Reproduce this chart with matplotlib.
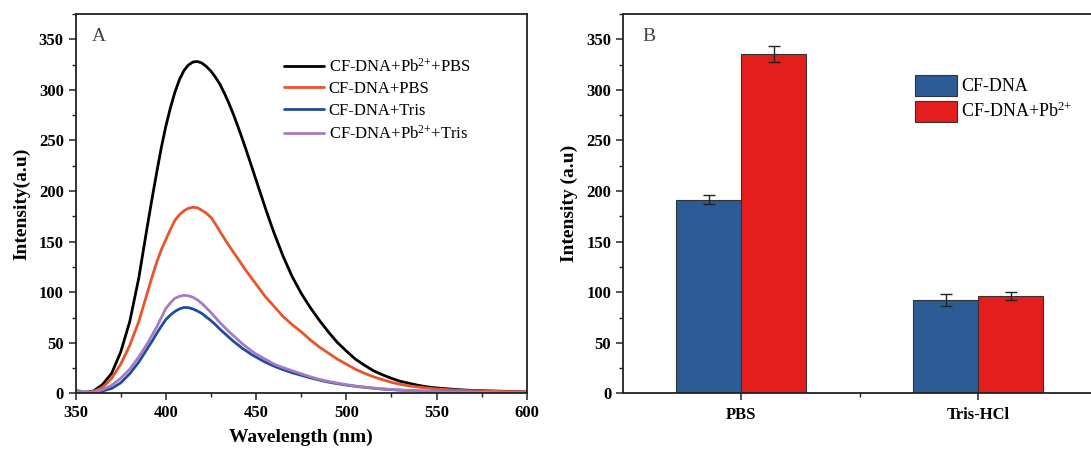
#Fluorescence spectra (A) and bar comparison (B)

import numpy as np
import matplotlib.pyplot as plt
from matplotlib.ticker import MultipleLocator, FixedLocator

plt.rcParams['font.family'] = ['Liberation Serif', 'DejaVu Serif']
plt.rcParams['mathtext.default'] = 'regular'

#spectra data (finer steps around the peaks)
wavelength = [350, 355, 360, 365, 370, 375, 380, 385,
              390, 392.5, 395, 397.5, 400, 402.5, 405, 407.5, 410, 412.5,
              415, 417.5, 420, 422.5, 425, 427.5, 430, 432.5, 435, 437.5,
              440, 442.5, 445, 447.5, 450, 452.5, 455, 457.5, 460,
              465, 470, 475, 480, 485, 490, 495, 500, 505,
              510, 515, 520, 525, 530, 535, 540, 545, 550,
              560, 570, 580, 590, 600]

pb_pbs = [2.5, 1, 2.5, 9, 20, 41, 71, 114,
          168, 194, 219, 243, 264, 282, 297.5, 310, 319, 324.5,
          327.5, 328, 326.5, 323, 318.5, 312.5, 305.5, 296.5, 286.5, 275.5,
          263.5, 251, 238, 224.5, 211, 197.5, 184, 171, 158.5,
          135.5, 115.5, 99, 85, 72.5, 61, 50.5, 42, 34,
          28, 22.5, 18.5, 15, 12, 10, 8, 6.5, 5.5,
          4, 3, 2.5, 2, 1.5]

pbs = [2.5, 1, 2, 6, 15, 29, 47.5, 71,
       101, 116, 130, 142, 152, 162, 171, 176.5, 180.5, 183,
       184, 183.5, 181, 178, 174, 167.5, 160, 153, 146, 139.5,
       133, 126.5, 120, 114, 108, 102, 96, 91, 86,
       76, 68, 61, 53, 46, 40, 34, 29, 24,
       20, 16.5, 13.7, 11, 9, 7.5, 6.3, 5.3, 4.5,
       3.3, 2.7, 2.2, 1.8, 1.5]

tris = [3, 1.5, 1, 2.5, 5, 10.5, 19.5, 31,
        45, 52, 59.5, 66.5, 73, 77.5, 81, 83.5, 85, 84.8,
        83.5, 81.5, 79, 75.5, 72, 68, 63.5, 59.5, 55.5, 51.5,
        48, 44.5, 41.5, 38.5, 36, 33.5, 31, 29, 27,
        23.5, 20.5, 18, 15.5, 13.3, 11.3, 9.7, 8.3, 7.1,
        6.1, 5.2, 4.4, 3.8, 3.3, 2.9, 2.5, 2.2, 2,
        1.6, 1.3, 1.1, 1, 1]

pb_tris = [3, 1.5, 1.5, 3.8, 8, 15, 24, 36,
           50, 58, 66, 75, 84, 89.5, 94, 96, 97, 96.5,
           95, 92.5, 89, 84.5, 80, 75, 70, 65.5, 61, 57,
           53, 49, 45.5, 42, 39, 36.5, 34, 31.5, 29,
           25.5, 22.5, 19.5, 16.5, 14, 12, 10.3, 8.7, 7.4,
           6.3, 5.4, 4.6, 4, 3.4, 3, 2.6, 2.3, 2,
           1.6, 1.3, 1.1, 1, 1]

#bar data
buffers = ['PBS', 'Tris-HCl']
dna_mean = [191.5, 92.5]
dna_err = [4.5, 6]
dna_pb_mean = [335.5, 96.5]
dna_pb_err = [7.5, 4]

fig = plt.figure(figsize=(10.91, 4.5), dpi=100)
axA = fig.add_axes([0.0693, 0.1256, 0.4135, 0.8434])
axB = fig.add_axes([0.571, 0.1256, 0.4341, 0.8434])

spine_col = '#222222'


def style_axes(ax):
    for s in ax.spines.values():
        s.set_linewidth(1.3)
        s.set_color(spine_col)
    ax.tick_params(which='major', direction='out', length=5, width=1.1,
                   colors=spine_col, labelsize=12, top=False, right=False)
    ax.tick_params(which='minor', direction='out', length=3, width=1.0,
                   colors=spine_col, top=False, right=False)
    for lab in ax.get_xticklabels() + ax.get_yticklabels():
        lab.set_fontweight('bold')
        lab.set_color('black')


#panel A
line_kw = dict(lw=2.0, solid_joinstyle='round', solid_capstyle='round')
axA.plot(wavelength, pb_pbs, color='black', label='CF-DNA+Pb$^{2{+}}$+PBS', **line_kw)
axA.plot(wavelength, pbs, color='#E8552A', label='CF-DNA+PBS', **line_kw)
axA.plot(wavelength, tris, color='#1F4C9C', label='CF-DNA+Tris', **line_kw)
axA.plot(wavelength, pb_tris, color='#A57BC4', label='CF-DNA+Pb$^{2{+}}$+Tris', **line_kw)
axA.set_xlim(350, 600)
axA.set_ylim(0, 375)
axA.xaxis.set_major_locator(MultipleLocator(50))
axA.xaxis.set_minor_locator(MultipleLocator(25))
axA.yaxis.set_major_locator(MultipleLocator(50))
axA.yaxis.set_minor_locator(MultipleLocator(25))
style_axes(axA)
axA.set_xlabel('Wavelength (nm)', fontsize=14, fontweight='bold', labelpad=5)
axA.set_ylabel('Intensity(a.u)', fontsize=14, fontweight='bold', labelpad=6)
axA.text(0.035, 0.94, 'A', transform=axA.transAxes, fontsize=14,
         color='#444444', va='center', ha='left')
legA = axA.legend(loc='upper left', bbox_to_anchor=(0.461, 0.885), frameon=False,
                  fontsize=12, handlelength=2.4, handletextpad=0.3,
                  labelspacing=0.35, borderpad=0, borderaxespad=0)

#panel B
x = np.arange(len(buffers))
w = 0.275
axB.bar(x - w / 2, dna_mean, w, color='#2C5B96', edgecolor='#333333', linewidth=0.8,
        label='CF-DNA')
axB.bar(x + w / 2, dna_pb_mean, w, color='#E31E1C', edgecolor='#333333', linewidth=0.8,
        label='CF-DNA+Pb$^{2{+}}$')
axB.errorbar(x - w / 2, dna_mean, yerr=dna_err, fmt='none', ecolor='#222222',
             elinewidth=1.0, capsize=4, capthick=1.0)
axB.errorbar(x + w / 2, dna_pb_mean, yerr=dna_pb_err, fmt='none', ecolor='#222222',
             elinewidth=1.0, capsize=4, capthick=1.0)
axB.set_xlim(-0.5, 1.5)
axB.set_ylim(0, 375)
axB.set_xticks(x)
axB.set_xticklabels(buffers)
axB.xaxis.set_minor_locator(FixedLocator([0.5]))
axB.yaxis.set_major_locator(MultipleLocator(50))
axB.yaxis.set_minor_locator(MultipleLocator(25))
style_axes(axB)
axB.tick_params(axis='x', which='major', pad=5)
axB.set_ylabel('Intensity (a.u)', fontsize=14, fontweight='bold', labelpad=6)
axB.text(0.04, 0.94, 'B', transform=axB.transAxes, fontsize=14,
         color='#444444', va='center', ha='left')
legB = axB.legend(loc='upper left', bbox_to_anchor=(0.617, 0.84), frameon=False,
                  fontsize=13, handlelength=2.3, handleheight=1.4,
                  handletextpad=0.25, labelspacing=0.3, borderpad=0, borderaxespad=0)
for p in legB.get_patches():
    p.set_edgecolor('#333333')

plt.savefig('out.png', dpi=100)
